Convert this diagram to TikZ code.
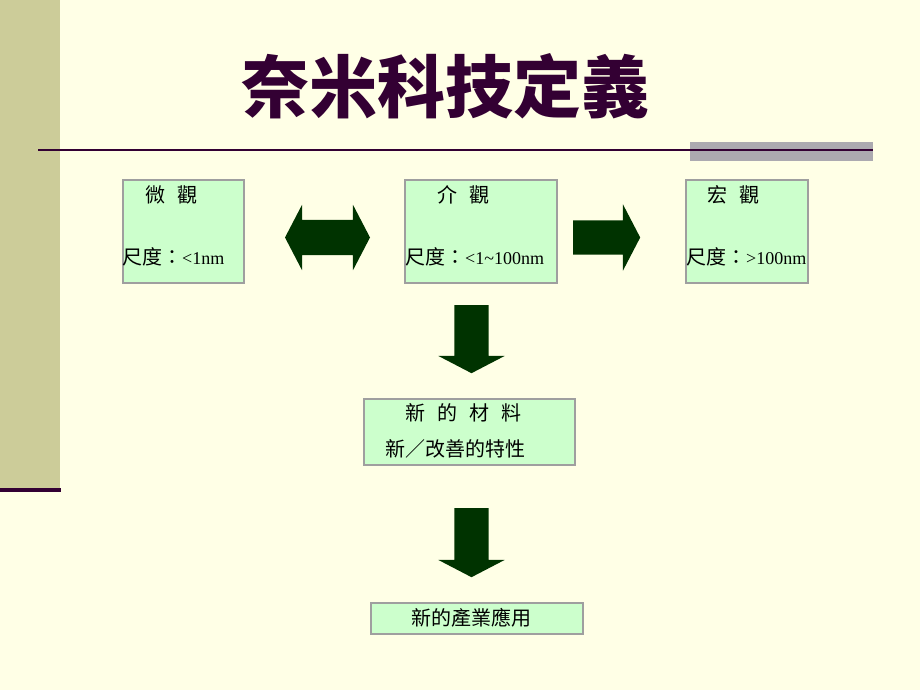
\documentclass[tikz,border=0pt]{standalone}
\usepackage{fontspec}
\setmainfont{Liberation Serif}
\newfontfamily\cjk{Noto Sans CJK TC}
\usetikzlibrary{shapes.arrows}
\definecolor{paper}{RGB}{255,255,230}
\definecolor{khaki}{RGB}{204,204,153}
\definecolor{plum}{RGB}{51,0,51}
\definecolor{slate}{RGB}{172,170,176}
\definecolor{mint}{RGB}{204,255,204}
\definecolor{pine}{RGB}{0,51,0}
\newcommand{\lat}[1]{{\fontsize{18}{22}\selectfont #1}}
\begin{document}
\begin{tikzpicture}[x=1pt,y=-1pt]
	\tikzstyle{panel}=[rectangle,draw=gray!75,line width=1.5pt,fill=mint,anchor=north west,inner sep=0pt]
	\tikzstyle{boxtext}=[anchor=west,inner sep=0pt,font=\fontsize{20}{24}\selectfont]
	\tikzstyle{onearrow}=[single arrow,fill=pine,inner xsep=0pt,inner ysep=17pt,single arrow head extend=16pt,single arrow tip angle=125,minimum width=66pt]
	\tikzstyle{twoarrow}=[double arrow,fill=pine,inner xsep=0pt,inner ysep=17.5pt,double arrow head extend=15pt,double arrow tip angle=125,minimum width=65pt]

	\fill[paper] (0,0) rectangle (920,690);
	\useasboundingbox (0,0) rectangle (920,690);
	\fill[khaki] (0,0) rectangle (60,490);
	\draw[plum,line width=4pt] (0,490) -- (61,490);
	\fill[slate] (690,142) rectangle (873,161);
	\draw[plum,line width=2.5pt] (38,150) -- (873,150);

	\node[font=\cjk\bfseries\fontsize{68}{70}\selectfont,text=plum] (title) at (445,86) {奈米科技定義};

	\begin{scope}
		\node [panel,minimum width=121pt,minimum height=103pt] (micro) at (122,179) {};
		\node [panel,minimum width=152pt,minimum height=103pt] (meso) at (404,179) {};
		\node [panel,minimum width=122pt,minimum height=103pt] (macro) at (685,179) {};
		\node [panel,minimum width=211pt,minimum height=66pt] (newmat) at (363,398) {};
		\node [panel,minimum width=212pt,minimum height=31pt] (newapp) at (370,602) {};

		\node [boxtext] (microA) at (145,195) {\cjk 微\hspace{12pt}觀};
		\node [boxtext] (microB) at (122,257) {{\cjk 尺度：}\lat{<1nm}};
		\node [boxtext] (mesoA) at (437,195) {\cjk 介\hspace{12pt}觀};
		\node [boxtext] (mesoB) at (405,257) {{\cjk 尺度：}\lat{<1\char`~100nm}};
		\node [boxtext] (macroA) at (707,195) {\cjk 宏\hspace{12pt}觀};
		\node [boxtext] (macroB) at (686,257) {{\cjk 尺度：}\lat{>100nm}};
		\node [boxtext] (matA) at (405,413) {\cjk 新\hspace{12pt}的\hspace{12pt}材\hspace{12pt}料};
		\node [boxtext] (matB) at (385,449) {\cjk 新／改善的特性};
		\node [boxtext] (appA) at (411,618) {\cjk 新的產業應用};

		\node [twoarrow,minimum height=85pt] (both) at (327.5,237.5) {};
		\node [onearrow,minimum height=67pt,anchor=tail] (toMacro) at (573,237.5) {};
		\node [onearrow,minimum height=68pt,anchor=tail,rotate=-90] (toMat) at (471.5,305) {};
		\node [onearrow,minimum height=69pt,anchor=tail,rotate=-90] (toApp) at (471.5,508) {};
	\end{scope}
\end{tikzpicture}
\end{document}
